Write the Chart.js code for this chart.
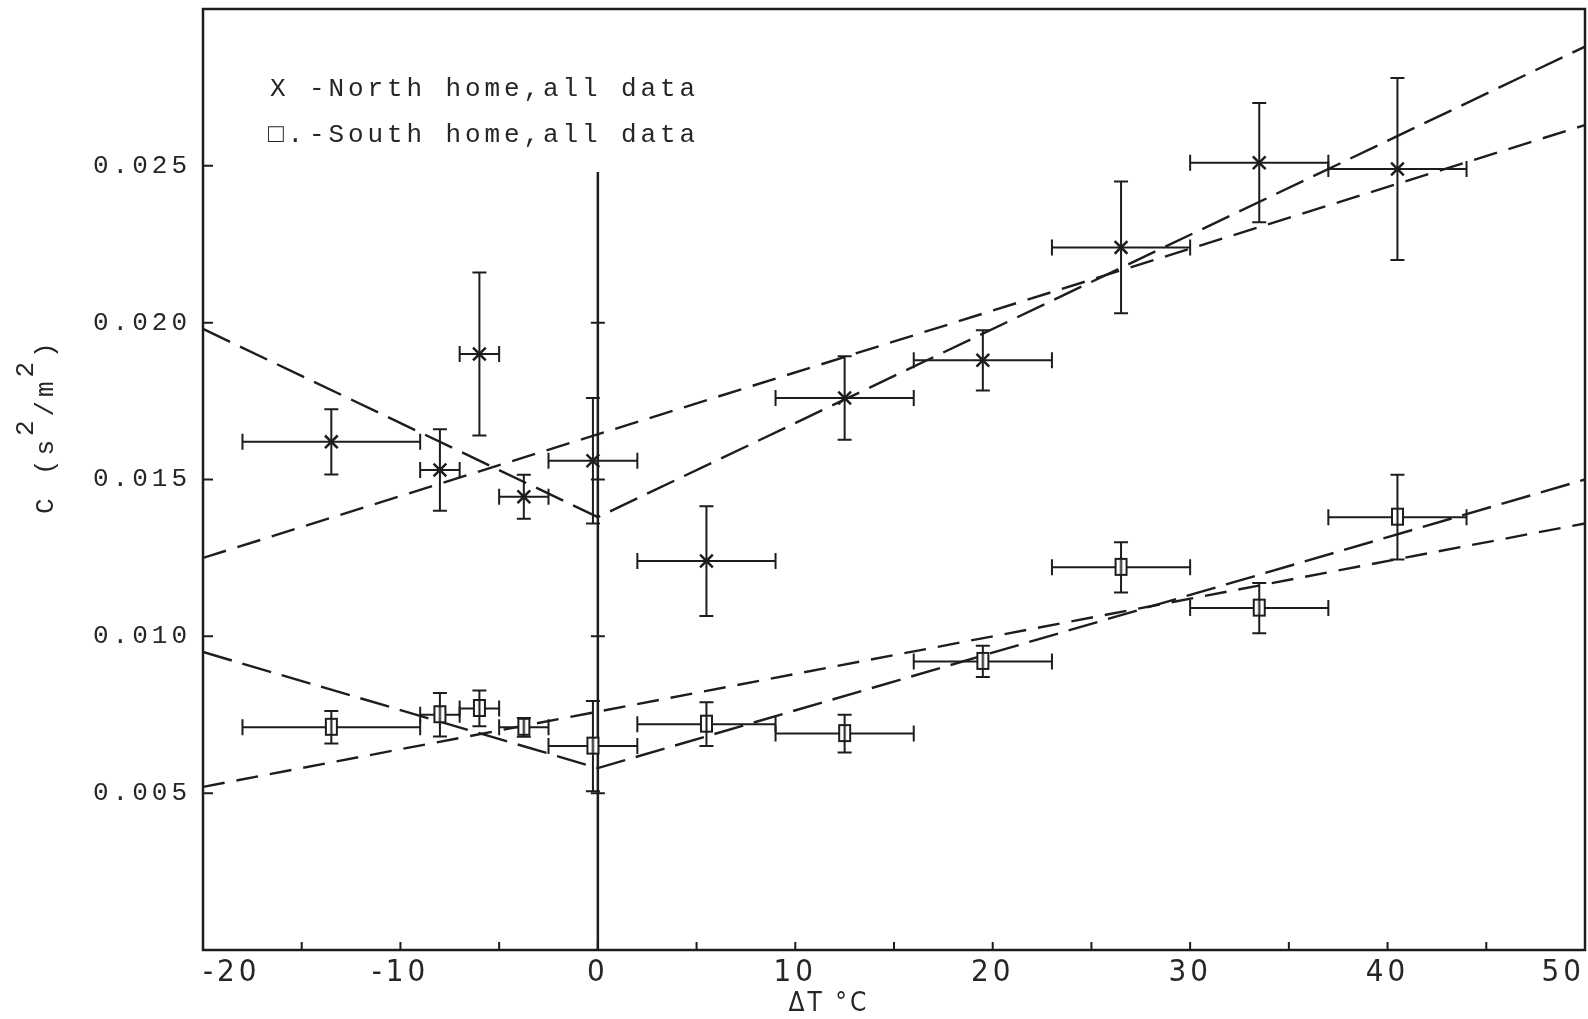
<!DOCTYPE html>
<html>
<head>
<meta charset="utf-8">
<title>C vs ΔT</title>
<script src="https://cdn.jsdelivr.net/npm/chart.js@4.4.1/dist/chart.umd.min.js"></script>
<style>
  html, body { margin: 0; padding: 0; background: #fff; }
  canvas { display: block; }
</style>
</head>
<body>
<canvas id="cChart" width="1588" height="1019"></canvas>
<script>
// North home (X markers): bin centre, half bin width, half spread of C
const northX    = [-13.5, -8.0, -6.0, -3.75, -0.25, 5.5, 12.5, 19.5, 26.5, 33.5, 40.5];
const northY    = [0.0162, 0.0153, 0.0190, 0.01445, 0.0156, 0.0124, 0.0176, 0.0188, 0.0224, 0.0251, 0.0249];
const northXErr = [4.5, 1.0, 1.0, 1.25, 2.25, 3.5, 3.5, 3.5, 3.5, 3.5, 3.5];
const northYErr = [0.00104, 0.0013, 0.0026, 0.0007, 0.002, 0.00175, 0.00133, 0.00096, 0.0021, 0.0019, 0.0029];

// South home (square markers)
const southX    = [-13.5, -8.0, -6.0, -3.75, -0.25, 5.5, 12.5, 19.5, 26.5, 33.5, 40.5];
const southY    = [0.0071, 0.0075, 0.0077, 0.0071, 0.0065, 0.0072, 0.0069, 0.0092, 0.0122, 0.0109, 0.0138];
const southXErr = [4.5, 1.0, 1.0, 1.25, 2.25, 3.5, 3.5, 3.5, 3.5, 3.5, 3.5];
const southYErr = [0.00052, 0.00069, 0.00057, 0.0003, 0.00144, 0.0007, 0.0006, 0.0005, 0.0008, 0.0008, 0.00135];

// fitted lines (V-shaped and straight) for each home
const northVeeX = [-20, 0, 50];
const northVeeY = [0.0198, 0.0138, 0.0288];
const northLinX = [-20, 50];
const northLinY = [0.0125, 0.0263];
const southVeeX = [-20, 0, 50];
const southVeeY = [0.0095, 0.0058, 0.0150];
const southLinX = [-20, 50];
const southLinY = [0.0052, 0.0136];

// solid marker line at ΔT = 0
const zeroLineX = [0, 0];
const zeroLineY = [0, 0.0248];

// ticks
const xTickMarks  = [-20, -15, -10, -5, 0, 5, 10, 15, 20, 25, 30, 35, 40, 45, 50];
const xTickLabels = [-20, -10, 0, 10, 20, 30, 40, 50];
const yTickLabels = [0.005, 0.010, 0.015, 0.020, 0.025];
const zeroLineTicks = [0.005, 0.010, 0.015, 0.020];

const ink = '#1d1d1d';
const textInk = '#262626';
const monoFont = "'Liberation Mono', 'DejaVu Sans Mono', monospace";
const narrowFont = "'Liberation Sans Narrow', 'DejaVu Sans Condensed', 'Liberation Sans', sans-serif";

const pts = (xs, ys) => xs.map((x, i) => ({ x: x, y: ys[i] }));

// little box with a bar through it, used for the South points
function makeBoxMarker() {
    const c = document.createElement('canvas');
    c.width = 15; c.height = 21;
    const g = c.getContext('2d');
    g.fillStyle = '#fff';
    g.fillRect(2, 2, 11, 17);
    g.strokeStyle = ink;
    g.lineWidth = 2;
    g.strokeRect(2, 2, 11, 16);
    g.beginPath();
    g.moveTo(7.5, 2); g.lineTo(7.5, 18);
    g.stroke();
    return c;
}
const boxMarker = makeBoxMarker();

function dashed(xs, ys, dash) {
    return {
        type: 'scatter',
        data: pts(xs, ys),
        showLine: true,
        borderColor: ink,
        borderWidth: 2.4,
        borderDash: dash,
        pointRadius: 0,
        pointHoverRadius: 0,
        fill: false
    };
}

// draws error bars, inner ticks, the frame and all free text
const decorations = {
    id: 'decorations',
    beforeUpdate(chart) {
        chart.ctx.letterSpacing = '4px';
    },
    beforeDraw(chart) {
        const ctx = chart.ctx;
        ctx.letterSpacing = '4px';
        ctx.save();
        ctx.fillStyle = '#fff';
        ctx.fillRect(0, 0, chart.width, chart.height);
        ctx.restore();
    },
    beforeDatasetsDraw(chart) {
        const ctx = chart.ctx;
        const xs = chart.scales.x, ys = chart.scales.y;
        ctx.save();
        ctx.strokeStyle = ink;
        ctx.lineWidth = 2;
        chart.data.datasets.forEach(ds => {
            if (!ds.errX) return;
            ds.data.forEach((p, i) => {
                const x0 = xs.getPixelForValue(p.x - ds.errX[i]);
                const x1 = xs.getPixelForValue(p.x + ds.errX[i]);
                const y0 = ys.getPixelForValue(p.y - ds.errY[i]);
                const y1 = ys.getPixelForValue(p.y + ds.errY[i]);
                const px = xs.getPixelForValue(p.x);
                const py = ys.getPixelForValue(p.y);
                ctx.beginPath();
                ctx.moveTo(x0, py); ctx.lineTo(x1, py);
                ctx.moveTo(x0, py - 8); ctx.lineTo(x0, py + 8);
                ctx.moveTo(x1, py - 8); ctx.lineTo(x1, py + 8);
                ctx.moveTo(px, y0); ctx.lineTo(px, y1);
                ctx.moveTo(px - 7, y0); ctx.lineTo(px + 7, y0);
                ctx.moveTo(px - 7, y1); ctx.lineTo(px + 7, y1);
                ctx.stroke();
            });
        });
        ctx.restore();
    },
    afterDraw(chart) {
        const ctx = chart.ctx;
        const a = chart.chartArea;
        const xs = chart.scales.x, ys = chart.scales.y;
        ctx.save();
        ctx.strokeStyle = ink;

        // frame
        ctx.lineWidth = 2.5;
        ctx.strokeRect(a.left, a.top, a.right - a.left, a.bottom - a.top);

        // inner ticks
        ctx.lineWidth = 2;
        ctx.beginPath();
        xTickMarks.forEach(v => {
            const x = xs.getPixelForValue(v);
            ctx.moveTo(x, a.bottom); ctx.lineTo(x, a.bottom - 8);
        });
        yTickLabels.forEach(v => {
            const y = ys.getPixelForValue(v);
            ctx.moveTo(a.left, y); ctx.lineTo(a.left + 10, y);
        });
        const zx = xs.getPixelForValue(0);
        zeroLineTicks.forEach(v => {
            const y = ys.getPixelForValue(v);
            ctx.moveTo(zx - 7, y); ctx.lineTo(zx + 7, y);
        });
        ctx.stroke();

        // legend
        ctx.fillStyle = textInk;
        ctx.letterSpacing = '3.9px';
        ctx.font = '26px ' + monoFont;
        ctx.textBaseline = 'middle';
        ctx.textAlign = 'left';
        ctx.fillText('X', 270, 89);
        ctx.fillText('-North home,all data', 309, 89);
        ctx.fillText('□.', 268, 135);
        ctx.fillText('-South home,all data', 309, 135);

        // x axis title
        ctx.font = '26px ' + narrowFont;
        ctx.letterSpacing = '3px';
        ctx.textAlign = 'center';
        ctx.fillText('ΔT °C', xs.getPixelForValue(11.7), 1004);

        // y axis title with superscripts, rotated
        ctx.letterSpacing = '3.9px';
        ctx.translate(46, ys.getPixelForValue(0.0167));
        ctx.rotate(-Math.PI / 2);
        ctx.font = '26px ' + monoFont;
        ctx.textAlign = 'left';
        const parts = [['C (s', 0], ['2', -20], ['/m', 0], ['2', -20], [')', 0]];
        const total = parts.reduce((s, p) => s + ctx.measureText(p[0]).width, 0);
        let cx = -total / 2;
        parts.forEach(p => {
            ctx.fillText(p[0], cx, p[1]);
            cx += ctx.measureText(p[0]).width;
        });
        ctx.restore();
    }
};

const chart = new Chart(document.getElementById('cChart').getContext('2d'), {
    type: 'scatter',
    data: {
        datasets: [
            {
                label: 'North home, all data',
                data: pts(northX, northY),
                errX: northXErr,
                errY: northYErr,
                pointStyle: 'crossRot',
                pointRadius: 9,
                pointHoverRadius: 9,
                borderColor: ink,
                borderWidth: 2.5
            },
            {
                label: 'South home, all data',
                data: pts(southX, southY),
                errX: southXErr,
                errY: southYErr,
                pointStyle: boxMarker,
                pointRadius: 8,
                pointHoverRadius: 8
            },
            dashed(northVeeX, northVeeY, [30, 11]),
            dashed(northLinX, northLinY, [24, 12]),
            dashed(southVeeX, southVeeY, [30, 11]),
            dashed(southLinX, southLinY, [22, 12]),
            {
                type: 'scatter',
                data: pts(zeroLineX, zeroLineY),
                showLine: true,
                borderColor: ink,
                borderWidth: 2.5,
                pointRadius: 0,
                pointHoverRadius: 0
            }
        ]
    },
    options: {
        responsive: false,
        animation: false,
        layout: { autoPadding: false, padding: { left: 0, right: 3, top: 9, bottom: 0 } },
        plugins: {
            legend: { display: false },
            tooltip: { enabled: false }
        },
        scales: {
            x: {
                type: 'linear',
                min: -20,
                max: 50,
                grid: { display: false, drawTicks: false },
                border: { display: false },
                ticks: {
                    stepSize: 5,
                    align: 'inner',
                    padding: 4,
                    color: textInk,
                    font: { family: narrowFont, size: 31 },
                    maxRotation: 0,
                    autoSkip: false,
                    callback: v => (xTickLabels.includes(v) ? String(v) : null)
                },
                afterFit(scale) {
                    scale.height = 69;
                    scale.paddingLeft = 0;
                    scale.paddingRight = 0;
                }
            },
            y: {
                type: 'linear',
                min: 0,
                max: 0.030,
                grid: { display: false, drawTicks: false },
                border: { display: false },
                ticks: {
                    stepSize: 0.005,
                    padding: 12,
                    color: textInk,
                    font: { family: monoFont, size: 26 },
                    autoSkip: false,
                    callback: v => (yTickLabels.some(t => Math.abs(t - v) < 1e-6) ? v.toFixed(3) : null)
                },
                afterFit(scale) {
                    scale.width = 203;
                    scale.paddingTop = 0;
                    scale.paddingBottom = 0;
                }
            }
        }
    },
    plugins: [decorations]
});
</script>
</body>
</html>
